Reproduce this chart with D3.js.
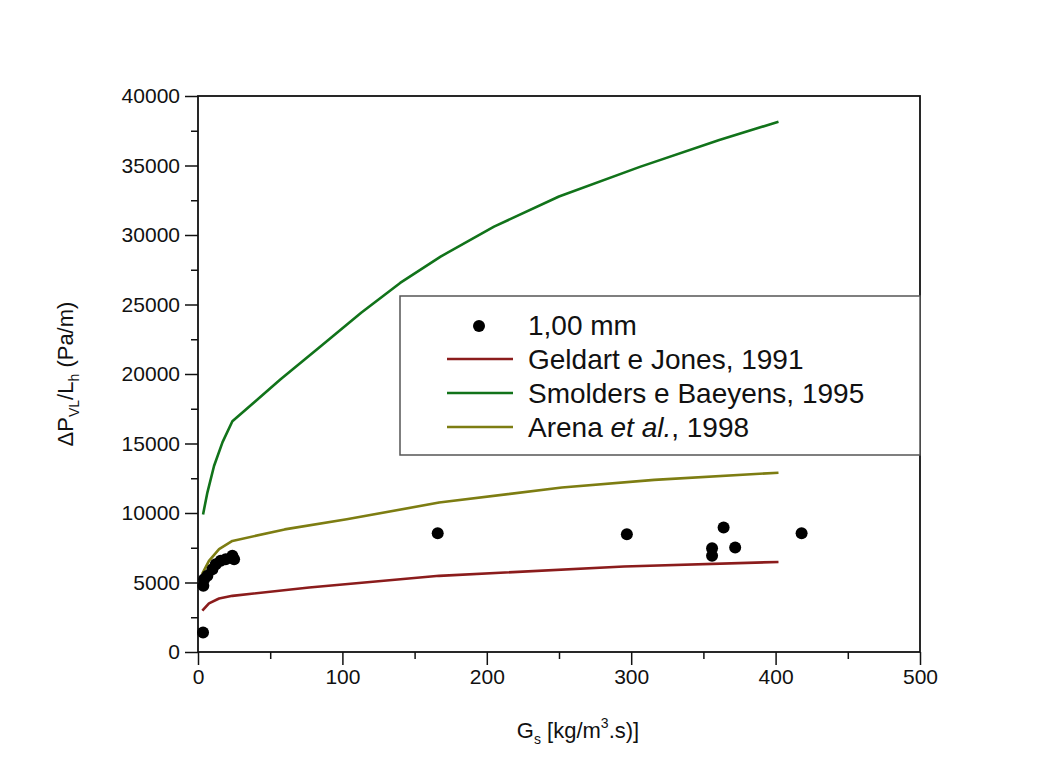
<!DOCTYPE html>
<html>
<head>
<meta charset="utf-8">
<script src="https://cdn.jsdelivr.net/npm/d3@7"></script>
<style>
	body { margin: 0; background: #fff; }
	svg text { font-family: "Liberation Sans", Arial, sans-serif; fill: #111; }
</style>
</head>
<body>
<svg id="chart" width="1058" height="765"></svg>
<script>
// measured points, 1,00 mm
var expG  = [3.5, 3.7, 4.2, 6.5, 10, 12.3, 15.7, 19.2, 23.8, 25, 166, 297, 356, 356, 364, 372, 418];
var expDP = [1410, 4760, 5240, 5480, 5960, 6320, 6560, 6680, 6920, 6680, 8550, 8470, 7470, 6920, 8950, 7520, 8550];

// correlations
var geldartG  = [3, 7.6, 14.6, 23.8, 77, 167, 295, 402];
var geldartDP = [2970, 3500, 3850, 4040, 4640, 5480, 6150, 6480];

var smoldersG  = [3.5, 6.5, 11.1, 17, 23.8, 57, 85, 113, 140, 168, 205, 250, 306, 361, 402];
var smoldersDP = [9900, 11470, 13380, 15100, 16600, 19600, 22000, 24400, 26550, 28450, 30600, 32770, 34900, 36840, 38150];

var arenaG  = [2.8, 7.6, 14.6, 23.8, 60, 103, 167, 252, 316, 402];
var arenaDP = [5600, 6560, 7400, 7990, 8820, 9550, 10750, 11830, 12380, 12900];

var xTicks = [0, 100, 200, 300, 400, 500];
var yTicks = [0, 5000, 10000, 15000, 20000, 25000, 30000, 35000, 40000];

(function() {
	var series = [
		{ name: "Geldart e Jones, 1991", g: geldartG, dp: geldartDP, color: "#8b1c1c" },
		{ name: "Smolders e Baeyens, 1995", g: smoldersG, dp: smoldersDP, color: "#11731a" },
		{ name: "Arena", g: arenaG, dp: arenaDP, color: "#7d7d12" }
	];

	var svg = d3.select("#chart"),
		pad = { left: 198, right: 920, top: 96, bottom: 652 };

	var x = d3.scaleLinear().domain([0, 500]).range([pad.left, pad.right]);
	var y = d3.scaleLinear().domain([0, 40000]).range([pad.bottom, pad.top]);

	// axes (ticks outward, minor ticks in between)
	var xAxis = d3.axisBottom(x).tickValues(xTicks).tickSize(13).tickPadding(4).tickFormat(d3.format("d"));
	var xMinor = d3.axisBottom(x).tickValues(d3.range(50, 500, 100)).tickSize(7).tickFormat("");
	var yAxis = d3.axisLeft(y).tickValues(yTicks).tickSize(13).tickPadding(5).tickFormat(d3.format("d"));
	var yMinor = d3.axisLeft(y).tickValues(d3.range(2500, 40000, 5000)).tickSize(7).tickFormat("");

	function styleAxis(g) {
		g.attr("font-size", 21).attr("font-family", null);
		g.select(".domain").remove();
		g.selectAll("line").attr("stroke", "#111").attr("stroke-width", 1.5);
		g.selectAll("text").attr("fill", "#111");
	}

	svg.append("g").attr("transform", "translate(0," + pad.bottom + ")").call(xAxis).call(styleAxis);
	svg.append("g").attr("transform", "translate(0," + pad.bottom + ")").call(xMinor).call(styleAxis);
	svg.append("g").attr("transform", "translate(" + pad.left + ",0)").call(yAxis).call(styleAxis);
	svg.append("g").attr("transform", "translate(" + pad.left + ",0)").call(yMinor).call(styleAxis);

	// frame
	svg.append("rect")
		.attr("x", pad.left).attr("y", pad.top)
		.attr("width", pad.right - pad.left).attr("height", pad.bottom - pad.top)
		.attr("fill", "none").attr("stroke", "#111").attr("stroke-width", 1.8);

	// curves
	var line = d3.line()
		.x(function(d) { return x(d[0]); })
		.y(function(d) { return y(d[1]); });

	series.forEach(function(s) {
		svg.append("path")
			.datum(d3.zip(s.g, s.dp))
			.attr("d", line)
			.attr("fill", "none")
			.attr("stroke", s.color)
			.attr("stroke-width", 2.6)
			.attr("stroke-linejoin", "round");
	});

	// points
	svg.append("g").selectAll("circle")
		.data(d3.zip(expG, expDP))
		.enter().append("circle")
		.attr("cx", function(d) { return x(d[0]); })
		.attr("cy", function(d) { return y(d[1]); })
		.attr("r", 6)
		.attr("fill", "#000");

	// legend
	var legend = svg.append("g");
	legend.append("rect")
		.attr("x", 400).attr("y", 296).attr("width", 520).attr("height", 159)
		.attr("fill", "#fff").attr("stroke", "#555").attr("stroke-width", 1.5);

	legend.append("circle").attr("cx", 479).attr("cy", 326).attr("r", 6).attr("fill", "#000");
	legend.append("text").attr("x", 528).attr("y", 335).attr("font-size", 28).text("1,00 mm");

	series.forEach(function(s, i) {
		var ly = 359 + i * 34;
		legend.append("line")
			.attr("x1", 447).attr("x2", 513).attr("y1", ly).attr("y2", ly)
			.attr("stroke", s.color).attr("stroke-width", 2.6);
		var t = legend.append("text").attr("x", 528).attr("y", ly + 10).attr("font-size", 28);
		if (s.name === "Arena") {
			t.append("tspan").text("Arena ");
			t.append("tspan").attr("font-style", "italic").text("et al.");
			t.append("tspan").text(", 1998");
		} else {
			t.text(s.name);
		}
	});

	// axis titles
	var xt = svg.append("text").attr("x", 578).attr("y", 738).attr("text-anchor", "middle").attr("font-size", 22);
	xt.append("tspan").text("G");
	xt.append("tspan").attr("font-size", 14).attr("dy", 6).text("s");
	xt.append("tspan").attr("dy", -6).text(" [kg/m");
	xt.append("tspan").attr("font-size", 14).attr("dy", -10).text("3");
	xt.append("tspan").attr("dy", 10).text(".s)]");

	var yt = svg.append("text")
		.attr("transform", "translate(73,374) rotate(-90)")
		.attr("text-anchor", "middle").attr("font-size", 22);
	yt.append("tspan").text("\u0394P");
	yt.append("tspan").attr("font-size", 14).attr("dy", 6).text("VL");
	yt.append("tspan").attr("dy", -6).text("/L");
	yt.append("tspan").attr("font-size", 14).attr("dy", 6).text("h");
	yt.append("tspan").attr("dy", -6).text(" (Pa/m)");
})();
</script>
</body>
</html>
